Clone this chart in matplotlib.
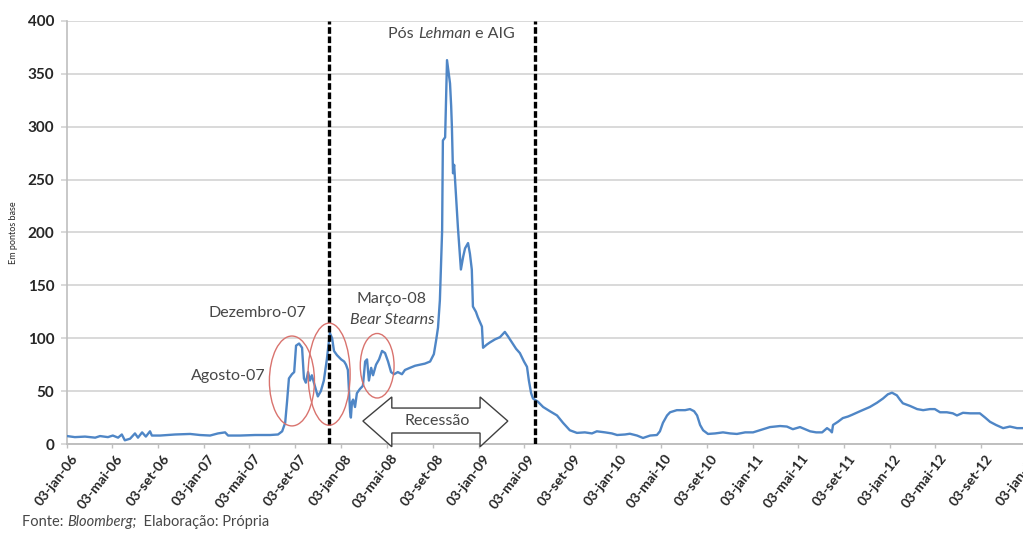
import matplotlib
matplotlib.use("Agg")
import matplotlib.pyplot as plt
import matplotlib.dates as mdates
from matplotlib.patches import Ellipse, Polygon
from matplotlib.transforms import ScaledTranslation
import numpy as np

plt.rcParams["font.family"] = ["Lato", "DejaVu Sans"]

# spread diário (pontos base)
DATES = [
    "2006-01-03", "2006-01-24", "2006-02-20", "2006-03-19", "2006-04-01", "2006-04-22",
    "2006-05-05", "2006-05-19", "2006-05-29", "2006-06-06", "2006-06-20", "2006-07-03",
    "2006-07-11", "2006-07-22", "2006-08-01", "2006-08-12", "2006-08-17", "2006-09-08",
    "2006-10-18", "2006-11-27", "2006-12-23", "2007-01-19", "2007-02-09", "2007-02-28",
    "2007-03-08", "2007-04-09", "2007-05-19", "2007-06-28", "2007-07-19", "2007-07-30",
    "2007-08-07", "2007-08-12", "2007-08-17", "2007-08-25", "2007-08-31", "2007-09-05",
    "2007-09-13", "2007-09-21", "2007-09-26", "2007-10-01", "2007-10-07", "2007-10-12",
    "2007-10-17", "2007-10-25", "2007-11-02", "2007-11-10", "2007-11-18", "2007-11-26",
    "2007-12-04", "2007-12-10", "2007-12-15", "2007-12-23", "2008-01-03", "2008-01-11",
    "2008-01-16", "2008-01-21", "2008-01-24", "2008-01-27", "2008-01-29", "2008-02-01",
    "2008-02-04", "2008-02-09", "2008-02-14", "2008-02-22", "2008-03-01", "2008-03-07",
    "2008-03-12", "2008-03-17", "2008-03-23", "2008-03-28", "2008-04-05", "2008-04-13",
    "2008-04-21", "2008-04-29", "2008-05-07", "2008-05-15", "2008-05-23", "2008-06-02",
    "2008-06-13", "2008-06-21", "2008-07-04", "2008-07-18", "2008-07-31", "2008-08-13",
    "2008-08-27", "2008-09-06", "2008-09-12", "2008-09-17", "2008-09-22", "2008-09-28",
    "2008-09-30", "2008-10-06", "2008-10-11", "2008-10-14", "2008-10-19", "2008-10-22",
    "2008-10-24", "2008-10-27", "2008-10-30", "2008-11-04", "2008-11-09", "2008-11-15",
    "2008-11-17", "2008-11-23", "2008-11-28", "2008-12-06", "2008-12-11", "2008-12-16",
    "2008-12-19", "2008-12-27", "2009-01-01", "2009-01-12", "2009-01-15", "2009-01-25",
    "2009-02-02", "2009-02-16", "2009-03-01", "2009-03-14", "2009-03-22", "2009-04-02",
    "2009-04-13", "2009-04-23", "2009-05-04", "2009-05-12", "2009-05-17", "2009-05-23",
    "2009-05-28", "2009-06-10", "2009-06-24", "2009-07-12", "2009-07-31", "2009-08-16",
    "2009-09-03", "2009-09-22", "2009-10-13", "2009-11-01", "2009-11-14", "2009-12-06",
    "2009-12-24", "2010-01-07", "2010-01-28", "2010-02-10", "2010-03-01", "2010-03-17",
    "2010-04-05", "2010-04-23", "2010-05-01", "2010-05-09", "2010-05-20", "2010-05-28",
    "2010-06-15", "2010-07-07", "2010-07-20", "2010-07-31", "2010-08-08", "2010-08-16",
    "2010-08-24", "2010-09-06", "2010-09-25", "2010-10-16", "2010-11-04", "2010-11-22",
    "2010-12-14", "2011-01-04", "2011-01-22", "2011-02-18", "2011-03-17", "2011-04-04",
    "2011-04-20", "2011-05-09", "2011-06-05", "2011-06-21", "2011-07-07", "2011-07-20",
    "2011-07-28", "2011-08-02", "2011-08-05", "2011-08-18", "2011-08-31", "2011-09-14",
    "2011-09-24", "2011-10-16", "2011-11-11", "2011-11-30", "2011-12-16", "2011-12-29",
    "2012-01-09", "2012-01-22", "2012-01-30", "2012-02-07", "2012-02-26", "2012-03-16",
    "2012-04-01", "2012-04-19", "2012-05-02", "2012-05-16", "2012-06-03", "2012-06-19",
    "2012-06-30", "2012-07-16", "2012-08-04", "2012-08-30", "2012-09-13", "2012-09-26",
    "2012-10-12", "2012-10-31", "2012-11-18", "2012-12-07", "2012-12-23",
]
SPREAD = [
    7.5, 6.5, 7, 6, 7.5, 6.5,
    8, 6, 9, 3.5, 5, 10,
    6, 11, 7, 12, 8, 8,
    9, 9.5, 8.5, 8, 10, 11,
    8, 8, 8.5, 8.5, 9, 12,
    20, 40, 62, 66, 68, 93,
    95, 91, 62, 58, 68, 60,
    65, 55, 45, 50, 60, 80,
    105, 100, 88, 84, 80, 78,
    75, 70, 50, 30, 25, 40,
    42, 35, 48, 52, 55, 78,
    80, 60, 72, 65, 75, 80,
    88, 86, 78, 68, 66, 68,
    66, 70, 72, 74, 75, 76,
    78, 85, 98, 110, 136, 202,
    287, 290, 363, 355, 341, 320,
    300, 256, 264, 234, 205, 175,
    165, 177, 185, 190, 180, 165,
    130, 125, 120, 111, 91, 94,
    96, 99, 101, 106, 102, 96,
    90, 86, 78, 73, 60, 48,
    43, 40, 35, 31, 27, 20,
    13, 10.5, 11, 10, 12, 11,
    10, 8.5, 9, 9.7, 8, 5.7,
    8, 8.5, 12, 20, 27, 30,
    32, 32, 33, 31, 27, 18,
    13, 9.5, 10, 11, 10, 9.5,
    11, 11, 13, 16, 17, 16.5,
    14, 16, 12, 11, 11, 15,
    13, 11, 18, 21, 24.5, 26,
    27.5, 31, 35, 39, 43, 47,
    48.5, 46, 42, 38.5, 36, 33,
    32, 33, 33, 30, 30, 29,
    27, 29.5, 29, 29, 25, 21,
    18, 15, 16.5, 15, 15,
]

TICK_DATES = [
    "2006-01-03", "2006-05-03", "2006-09-03", "2007-01-03", "2007-05-03", "2007-09-03",
    "2008-01-03", "2008-05-03", "2008-09-03", "2009-01-03", "2009-05-03", "2009-09-03",
    "2010-01-03", "2010-05-03", "2010-09-03", "2011-01-03", "2011-05-03", "2011-09-03",
    "2012-01-03", "2012-05-03", "2012-09-03", "2013-01-03",
]
TICK_LABELS = [
    "03-jan-06", "03-mai-06", "03-set-06", "03-jan-07", "03-mai-07", "03-set-07",
    "03-jan-08", "03-mai-08", "03-set-08", "03-jan-09", "03-mai-09", "03-set-09",
    "03-jan-10", "03-mai-10", "03-set-10", "03-jan-11", "03-mai-11", "03-set-11",
    "03-jan-12", "03-mai-12", "03-set-12", "03-jan-13",
]
RECESSION = ["2007-12-01", "2009-06-01"]

BLUE, GRID, INK, TXT, RED = "#4F86C6", "#D9D9D9", "#262626", "#474747", "#D9736E"

def d(s):
    return mdates.date2num(np.datetime64(s))

fig = plt.figure(figsize=(10.23, 5.35), dpi=100)
ax = fig.add_axes([67 / 1023, 91 / 535, 962.8 / 1023, 423 / 535])
ax.set_xlim(d("2006-01-03"), d("2013-01-10"))
ax.set_ylim(0, 400)

ax.plot(np.array(DATES, dtype="datetime64[D]"), SPREAD, color=BLUE, lw=1.7, zorder=4)

for r in RECESSION:
    ax.axvline(d(r), color="black", lw=2.4, linestyle=(0, (2.0, 0.8)), zorder=5)

ax.set_yticks(range(0, 401, 50))
ax.grid(axis="y", color=GRID, lw=1.4, zorder=0)
ax.set_axisbelow(True)
for s in ("top", "right"):
    ax.spines[s].set_visible(False)
ax.spines["left"].set_color("#BFBFBF")
ax.spines["bottom"].set_color("#BFBFBF")
ax.spines["left"].set_linewidth(1.2)
ax.spines["bottom"].set_linewidth(1.4)
ax.tick_params(axis="y", length=4, color=GRID, width=1.4, labelsize=11, labelcolor=INK, pad=5)
ax.tick_params(axis="x", length=3, color="#BFBFBF", width=1, labelsize=10, labelcolor=INK, pad=3)
for lab in ax.get_yticklabels():
    lab.set_fontweight("bold")

ax.set_xticks([d(t) for t in TICK_DATES])
ax.set_xticklabels(TICK_LABELS, rotation=52, ha="right", va="top", rotation_mode="anchor",
                   fontweight="bold")
shift = ScaledTranslation(4 / 100, 0, fig.dpi_scale_trans)
for lab in ax.get_xticklabels():
    lab.set_transform(lab.get_transform() + shift)

ax.set_ylabel("Em pontos base", fontsize=6.5, color=INK, labelpad=7)

# elipses de destaque
for cx, cy, w, h in [("2007-08-25", 59.6, 120, 85), ("2007-12-02", 66, 112, 96.5),
                     ("2008-04-08", 74, 90, 61)]:
    ax.add_patch(Ellipse((d(cx), cy), w, h, facecolor="none", edgecolor=RED, lw=1.0, zorder=6))

# seta da recessão
x0, x1, x2, x3 = d("2008-03-01"), d("2008-05-17"), d("2009-01-07"), d("2009-03-22")
pts = [(x0, 21.7), (x1, 44.5), (x1, 34), (x2, 34), (x2, 44.5), (x3, 21.7),
       (x2, -2.6), (x2, 10.4), (x1, 10.4), (x1, -2.6)]
ax.add_patch(Polygon(pts, closed=True, facecolor="white", edgecolor="#404040", lw=1.0,
                     zorder=6, clip_on=False))
ax.text(d("2008-09-14"), 22, "Recessão", ha="center", va="center", fontsize=11.5, color=TXT, zorder=7)

ax.text(d("2007-05-24"), 124, "Dezembro-07", ha="center", va="center", fontsize=11.5, color=TXT)
ax.text(d("2007-03-08"), 64, "Agosto-07", ha="center", va="center", fontsize=11.5, color=TXT)
ax.text(d("2008-05-17"), 137, "Março-08", ha="center", va="center", fontsize=11.5, color=TXT)
ax.text(d("2008-05-17"), 117, "Bear Stearns", ha="center", va="center", fontsize=11.5,
        color=TXT, style="italic")

t1 = ax.text(d("2008-05-07"), 381, "Pós ", ha="left", va="bottom", fontsize=11.5, color=TXT)
t2 = ax.annotate("Lehman", xy=(1, 0), xycoords=t1, ha="left", va="bottom", fontsize=11.5,
                 color=TXT, style="italic")
ax.annotate(" e AIG", xy=(1, 0), xycoords=t2, ha="left", va="bottom", fontsize=11.5, color=TXT)

s1 = fig.text(22 / 1023, 1 - 529 / 535, "Fonte: ", ha="left", va="bottom", fontsize=10.5, color=TXT)
s2 = ax.annotate("Bloomberg;", xy=(1, 0), xycoords=s1, ha="left", va="bottom", fontsize=10.5,
                 color=TXT, style="italic", annotation_clip=False)
ax.annotate("  Elaboração: Própria", xy=(1, 0), xycoords=s2, ha="left", va="bottom",
            fontsize=10.5, color=TXT, annotation_clip=False)

fig.savefig("out.png", dpi=100, facecolor="white")
